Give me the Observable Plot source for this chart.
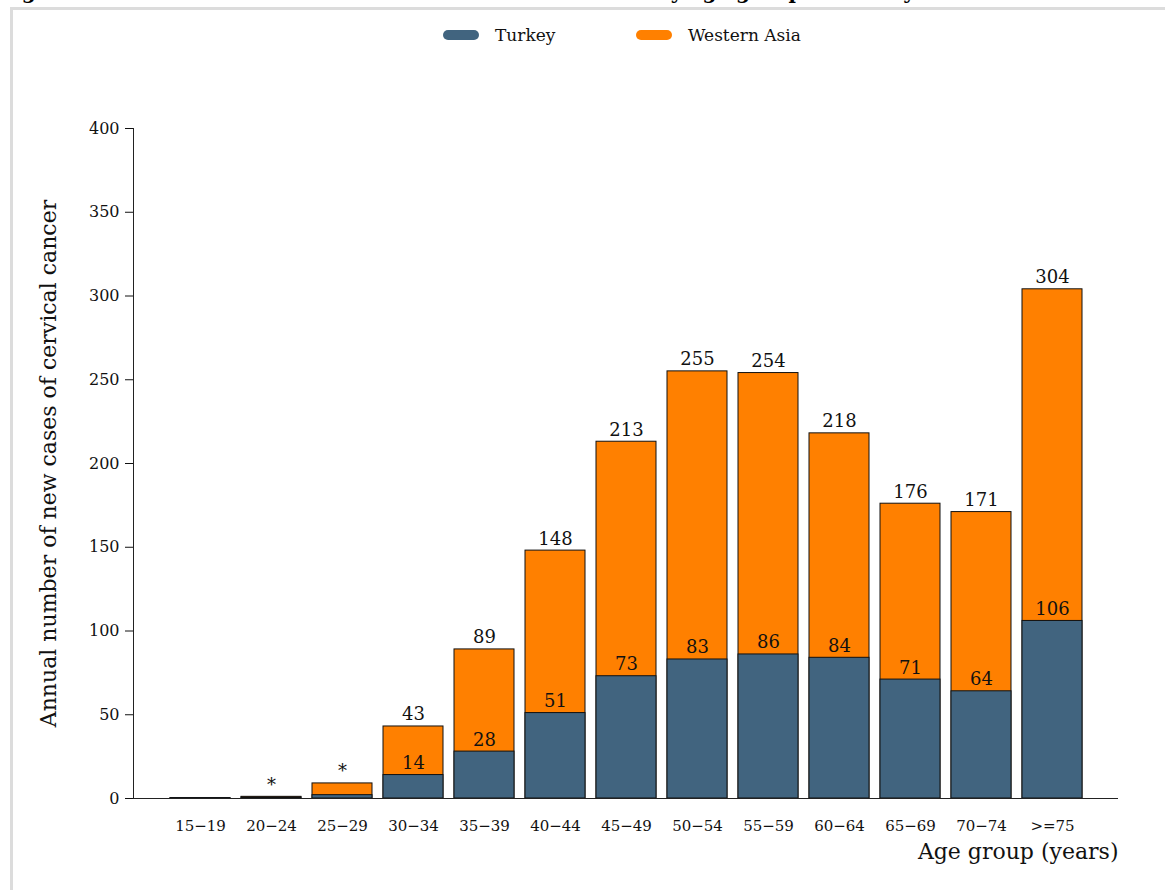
<!DOCTYPE html>
<html>
<head>
<meta charset="utf-8">
<script src="https://cdn.jsdelivr.net/npm/d3@7"></script>
<script src="https://cdn.jsdelivr.net/npm/@observablehq/plot@0.6"></script>
<style>
  html, body { margin: 0; padding: 0; background: #fff; width: 1165px; height: 890px; overflow: hidden; }
  body { position: relative; font-family: "DejaVu Serif", serif; }
  #frame { position: absolute; left: 10px; top: 7px; width: 1200px; height: 900px; border-left: 3px solid #dcdcdc; border-top: 3px solid #dcdcdc; }
  #title { position: absolute; left: 0; top: 0; }
  .leg { position: absolute; top: 25px; font-size: 17px; color: #111; display: flex; align-items: center; }
  .sw { width: 36px; height: 10px; border-radius: 5px; margin-right: 16px; }
  #chart { position: absolute; left: 0; top: 60px; }
</style>
</head>
<body>
<svg id="title" width="1165" height="8"><text x="0" y="-1" font-family="DejaVu Serif" font-weight="bold" font-size="20">Figure 19: Annual number of new cases of cervical cancer by age group in Turkey</text></svg>
<div id="frame"></div>
<div class="leg" style="left:443px"><div class="sw" style="background:#41647f"></div>Turkey</div>
<div class="leg" style="left:636px"><div class="sw" style="background:#ff8000"></div>Western Asia</div>
<div id="chart"></div>
<script>
const ageGroups = ["15−19","20−24","25−29","30−34","35−39","40−44","45−49","50−54","55−59","60−64","65−69","70−74",">=75"];
const westernAsia = [0.3, 1, 9, 43, 89, 148, 213, 255, 254, 218, 176, 171, 304];
const turkey = [0.1, 0.6, 2, 14, 28, 51, 73, 83, 86, 84, 71, 64, 106];
const westLabels = ["", "*", "*", "43", "89", "148", "213", "255", "254", "218", "176", "171", "304"];
const turkeyLabels = ["", "", "", "14", "28", "51", "73", "83", "86", "84", "71", "64", "106"];
const yTicks = [0, 50, 100, 150, 200, 250, 300, 350, 400];
const xTitle = "Age group (years)";
const yTitle = "Annual number of new cases of cervical cancer";

const data = ageGroups.map((a, i) => ({
  age: a, west: westernAsia[i], turkey: turkey[i], wl: westLabels[i], tl: turkeyLabels[i]
}));

const chart = Plot.plot({
  width: 1165,
  height: 830,
  marginLeft: 133,
  marginRight: 47,
  marginTop: 68,
  marginBottom: 92,
  style: { fontFamily: "DejaVu Serif", fontSize: "15px", color: "#111", background: "transparent" },
  x: { domain: ageGroups, paddingInner: 0.155, paddingOuter: 0.5, label: null },
  y: { domain: [0, 400], label: null },
  marks: [
    Plot.axisY(yTicks, { tickSize: 8, tickPadding: 6, fontSize: 16, label: null }),
    Plot.axisX({ tickSize: 0, tickPadding: 22, fontSize: 15, label: null }),
    Plot.barY(data, { x: "age", y: "west", fill: "#ff8000", stroke: "#111", strokeWidth: 1 }),
    Plot.barY(data, { x: "age", y: "turkey", fill: "#41647f", stroke: "#111", strokeWidth: 1 }),
    Plot.text(data, { x: "age", y: "west", text: "wl", lineAnchor: "bottom", dy: -6, fontSize: 18, fill: "#111" }),
    Plot.text(data, { x: "age", y: "turkey", text: "tl", lineAnchor: "bottom", dy: -6, fontSize: 18, fill: "#111" }),
    Plot.frame({ anchor: "left", stroke: "#222" }),
    Plot.ruleY([0], { stroke: "#222" }),
    Plot.text([xTitle], { frameAnchor: "bottom-right", text: d => d, textAnchor: "end", lineAnchor: "middle", dy: 53, fontSize: 22, fill: "#111" }),
    Plot.text([yTitle], { frameAnchor: "left", text: d => d, rotate: -90, textAnchor: "middle", lineAnchor: "middle", dx: -85, fontSize: 22, fill: "#111" })
  ]
});
document.getElementById("chart").appendChild(chart);
</script>
</body>
</html>
